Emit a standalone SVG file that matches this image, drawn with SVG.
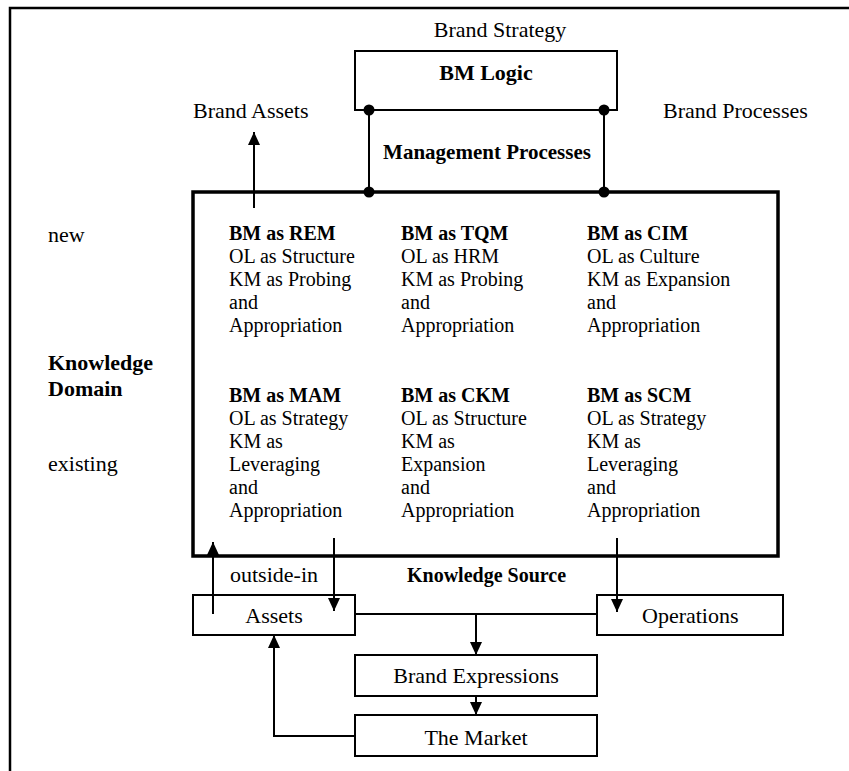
<svg xmlns="http://www.w3.org/2000/svg" width="849" height="771" viewBox="0 0 849 771">
<defs>
<marker id="ah" markerUnits="userSpaceOnUse" markerWidth="14" markerHeight="13" refX="13" refY="6" orient="auto">
<path d="M0,0 L13,6 L0,12 z" fill="#000"/>
</marker>
<style>
text{font-family:"Liberation Serif","Times New Roman",serif;fill:#000}
.t22{font-size:22px}
.t20{font-size:20px}
.b{font-weight:bold}
.box{fill:#fff;stroke:#000;stroke-width:2}
.main{fill:none;stroke:#000;stroke-width:3.5}
.ln{fill:none;stroke:#000;stroke-width:2}
.arr{fill:none;stroke:#000;stroke-width:2;marker-end:url(#ah)}
.mid{text-anchor:middle}
</style>
</defs>
<rect width="849" height="771" fill="#fff"/>
<path d="M10,771 V8 H849" fill="none" stroke="#000" stroke-width="2.5"/>

<g id="labels">
<text class="t22 mid" x="500" y="37">Brand Strategy</text>
<text class="t22" x="193" y="118">Brand Assets</text>
<text class="t22" x="663" y="118">Brand Processes</text>
<text class="t22" x="48" y="242">new</text>
<text class="t22 b" x="48" y="370">Knowledge</text>
<text class="t22 b" x="48" y="396">Domain</text>
<text class="t22" x="48" y="471">existing</text>
<text class="t22" x="230" y="582">outside-in</text>
<text class="t20 b" x="407" y="582">Knowledge Source</text>
</g>

<g id="bm-logic">
<rect class="box" x="355" y="51" width="262" height="59"/>
<text class="t22 b mid" x="486" y="80">BM Logic</text>
</g>

<g id="management-processes">
<text class="b mid" style="font-size:21px" x="487" y="159">Management Processes</text>
</g>

<g id="main-box">
<rect class="main" x="193" y="192" width="585" height="364"/>
</g>

<g id="rem">
<text class="t20" x="229" y="240"><tspan class="b">BM as REM</tspan><tspan x="229" dy="23">OL as Structure</tspan><tspan x="229" dy="23">KM as Probing</tspan><tspan x="229" dy="23">and</tspan><tspan x="229" dy="23">Appropriation</tspan></text>
</g>
<g id="tqm">
<text class="t20" x="401" y="240"><tspan class="b">BM as TQM</tspan><tspan x="401" dy="23">OL as HRM</tspan><tspan x="401" dy="23">KM as Probing</tspan><tspan x="401" dy="23">and</tspan><tspan x="401" dy="23">Appropriation</tspan></text>
</g>
<g id="cim">
<text class="t20" x="587" y="240"><tspan class="b">BM as CIM</tspan><tspan x="587" dy="23">OL as Culture</tspan><tspan x="587" dy="23">KM as Expansion</tspan><tspan x="587" dy="23">and</tspan><tspan x="587" dy="23">Appropriation</tspan></text>
</g>
<g id="mam">
<text class="t20" x="229" y="402"><tspan class="b">BM as MAM</tspan><tspan x="229" dy="23">OL as Strategy</tspan><tspan x="229" dy="23">KM as</tspan><tspan x="229" dy="23">Leveraging</tspan><tspan x="229" dy="23">and</tspan><tspan x="229" dy="23">Appropriation</tspan></text>
</g>
<g id="ckm">
<text class="t20" x="401" y="402"><tspan class="b">BM as CKM</tspan><tspan x="401" dy="23">OL as Structure</tspan><tspan x="401" dy="23">KM as</tspan><tspan x="401" dy="23">Expansion</tspan><tspan x="401" dy="23">and</tspan><tspan x="401" dy="23">Appropriation</tspan></text>
</g>
<g id="scm">
<text class="t20" x="587" y="402"><tspan class="b">BM as SCM</tspan><tspan x="587" dy="23">OL as Strategy</tspan><tspan x="587" dy="23">KM as</tspan><tspan x="587" dy="23">Leveraging</tspan><tspan x="587" dy="23">and</tspan><tspan x="587" dy="23">Appropriation</tspan></text>
</g>

<g id="assets">
<rect class="box" x="193" y="595" width="162" height="40"/>
<text class="t22 mid" x="274" y="623">Assets</text>
</g>
<g id="operations">
<rect class="box" x="597" y="595" width="186" height="40"/>
<text class="t22" x="642" y="623">Operations</text>
</g>
<g id="brand-expressions">
<rect class="box" x="355" y="655" width="242" height="41"/>
<text class="t22 mid" x="476" y="683">Brand Expressions</text>
</g>
<g id="the-market">
<rect class="box" x="355" y="715" width="242" height="41"/>
<text class="t22 mid" x="476" y="745">The Market</text>
</g>

<g id="connectors">
<line class="ln" x1="369" y1="110" x2="369" y2="192"/>
<line class="ln" x1="604" y1="110" x2="604" y2="192"/>
<circle cx="369" cy="110" r="5.5"/>
<circle cx="604" cy="110" r="5.5"/>
<circle cx="369" cy="192" r="5.5"/>
<circle cx="604" cy="192" r="5.5"/>
<line class="arr" x1="254" y1="208" x2="254" y2="132"/>
<line class="arr" x1="213" y1="614" x2="213" y2="542"/>
<line class="arr" x1="334" y1="538" x2="334" y2="611"/>
<line class="arr" x1="617" y1="538" x2="617" y2="612"/>
<line class="ln" x1="355" y1="614" x2="597" y2="614"/>
<line class="arr" x1="476" y1="614" x2="476" y2="655"/>
<line class="arr" x1="476" y1="696" x2="476" y2="715"/>
<polyline class="arr" points="355,736 274,736 274,635"/>
</g>
</svg>
